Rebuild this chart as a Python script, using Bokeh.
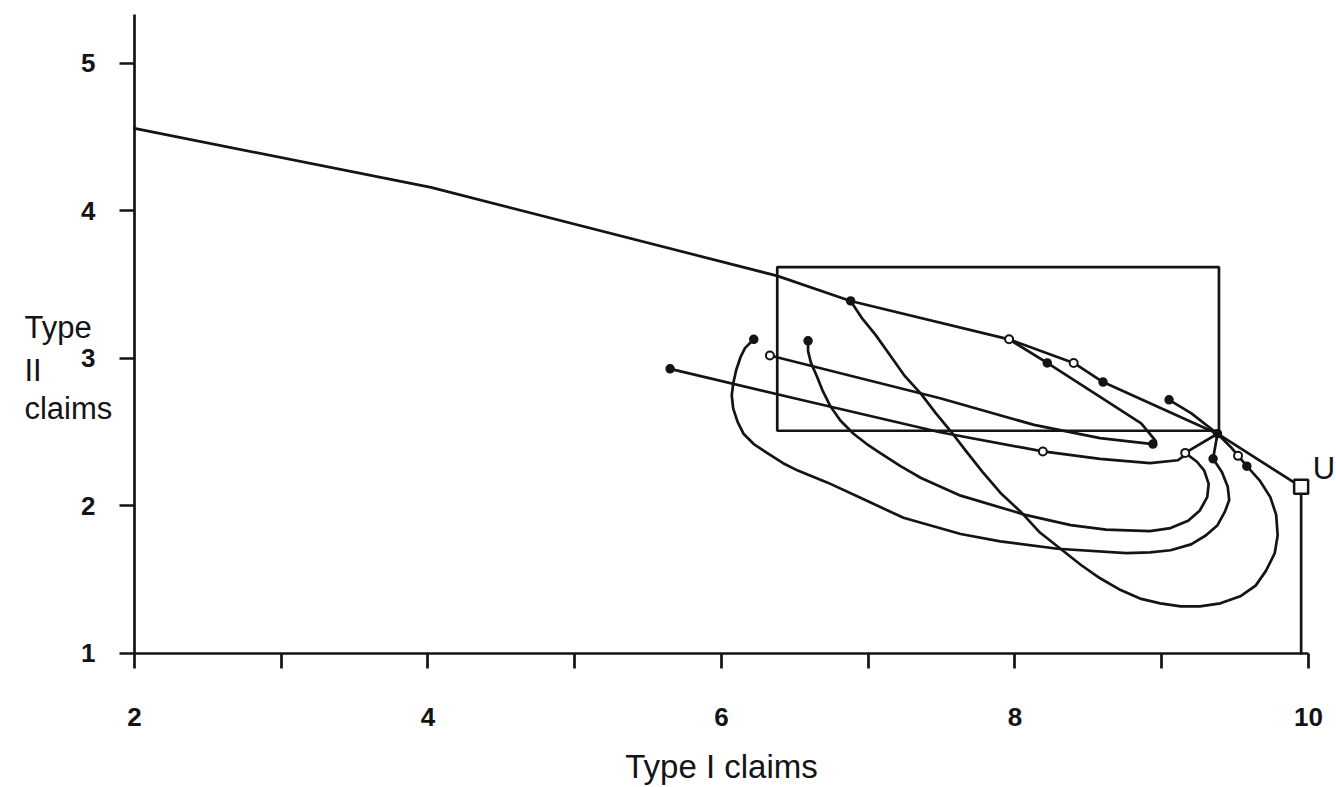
from bokeh.plotting import figure
from bokeh.models import Range1d, FixedTicker, Label
from bokeh.embed import file_html
from bokeh.resources import INLINE

# ---------------- data ----------------
x_ticks = [2, 3, 4, 5, 6, 7, 8, 9, 10]
x_tick_labels = {2: "2", 3: "", 4: "4", 5: "", 6: "6", 7: "", 8: "8", 9: "", 10: "10"}
y_ticks = [1, 2, 3, 4, 5]

# upper frontier line ending at U
frontier_x = [2.00, 4.02, 6.38, 6.88, 7.96, 8.40, 8.60, 9.38, 9.95]
frontier_y = [4.56, 4.16, 3.56, 3.39, 3.13, 2.97, 2.84, 2.49, 2.13]

# point U and its drop line to the axis
u_x = [9.95]
u_y = [2.13]
drop_x = [9.95, 9.95]
drop_y = [2.13, 1.00]

# rectangle
box_left, box_right = 6.38, 9.39
box_bottom, box_top = 2.51, 3.62

# trajectories
loop_a_x = [6.22, 6.16, 6.13, 6.10, 6.08, 6.07, 6.08, 6.11, 6.15, 6.22, 6.31, 6.42,
            6.52, 6.72, 6.98, 7.24, 7.63, 7.90, 8.29, 8.76, 8.92, 9.06, 9.20, 9.30,
            9.38, 9.43, 9.46, 9.45, 9.41, 9.35, 9.38]
loop_a_y = [3.13, 3.07, 3.01, 2.92, 2.83, 2.75, 2.66, 2.57, 2.49, 2.42, 2.36, 2.29,
            2.24, 2.16, 2.04, 1.92, 1.81, 1.76, 1.71, 1.68, 1.685, 1.70, 1.74, 1.80,
            1.87, 1.96, 2.04, 2.13, 2.23, 2.32, 2.49]

loop_b_x = [6.59, 6.59, 6.61, 6.65, 6.69, 6.74, 6.81, 6.90, 6.99, 7.08, 7.22, 7.36,
            7.63, 8.07, 8.38, 8.62, 8.92, 9.06, 9.18, 9.26, 9.31, 9.32, 9.29, 9.24,
            9.16, 9.38]
loop_b_y = [3.12, 3.05, 2.97, 2.88, 2.78, 2.68, 2.58, 2.49, 2.42, 2.36, 2.27, 2.19,
            2.07, 1.94, 1.87, 1.84, 1.83, 1.85, 1.90, 1.97, 2.06, 2.15, 2.24, 2.30,
            2.36, 2.49]

loop_c_x = [6.88, 6.96, 7.05, 7.15, 7.25, 7.36, 7.46, 7.56, 7.66, 7.78, 7.90, 8.04,
            8.17, 8.31, 8.45, 8.58, 8.72, 8.86, 8.99, 9.13, 9.26, 9.40, 9.54, 9.64,
            9.71, 9.77, 9.79, 9.78, 9.74, 9.67, 9.58, 9.47, 9.38]
loop_c_y = [3.39, 3.27, 3.16, 3.02, 2.88, 2.76, 2.63, 2.51, 2.38, 2.23, 2.09, 1.96,
            1.82, 1.71, 1.60, 1.51, 1.43, 1.37, 1.34, 1.32, 1.32, 1.34, 1.39, 1.46,
            1.56, 1.68, 1.80, 1.94, 2.06, 2.17, 2.27, 2.40, 2.49]

path_1_x = [5.65, 6.54, 7.49, 8.19, 8.58, 8.92, 9.11, 9.18]
path_1_y = [2.93, 2.72, 2.50, 2.37, 2.32, 2.29, 2.31, 2.36]

path_2_x = [6.33, 7.49, 8.13, 8.58, 8.94]
path_2_y = [3.02, 2.73, 2.55, 2.46, 2.42]

path_3_x = [7.96, 8.22, 8.58, 8.86, 8.96]
path_3_y = [3.13, 2.97, 2.74, 2.56, 2.44]

path_4_x = [9.05, 9.20, 9.38]
path_4_y = [2.72, 2.63, 2.49]

# markers
filled_x = [5.65, 6.22, 6.59, 6.88, 8.22, 8.60, 8.94, 9.05, 9.35, 9.58, 9.38]
filled_y = [2.93, 3.13, 3.12, 3.39, 2.97, 2.84, 2.42, 2.72, 2.32, 2.27, 2.49]
open_x = [6.33, 7.96, 8.40, 8.19, 9.16, 9.52]
open_y = [3.02, 3.13, 2.97, 2.37, 2.36, 2.34]

# ---------------- figure ----------------
INK = "#141414"
LW = 2.7
FONT = "Liberation Sans"

# the frame covers the whole canvas; axes are pinned at x=2 and y=1
p = figure(width=1336, height=787,
           x_range=Range1d(1.087, 10.191), y_range=Range1d(0.0915, 5.427),
           output_backend="svg", toolbar_location=None,
           min_border_left=0, min_border_right=0,
           min_border_top=0, min_border_bottom=0)
p.outline_line_color = None
p.xgrid.visible = False
p.ygrid.visible = False
p.background_fill_color = "white"
p.border_fill_color = "white"

for ax in (p.xaxis[0], p.yaxis[0]):
    ax.axis_line_width = LW
    ax.axis_line_color = INK
    ax.major_tick_line_width = LW
    ax.major_tick_line_color = INK
    ax.major_tick_out = 15
    ax.major_tick_in = 0
    ax.minor_tick_line_color = None
    ax.major_label_text_font = FONT
    ax.major_label_text_font_size = "26px"
    ax.major_label_text_font_style = "bold"
    ax.major_label_text_color = INK

p.xaxis.fixed_location = 1
p.xaxis.bounds = (2, 10)
p.xaxis.ticker = FixedTicker(ticks=x_ticks)
p.xaxis.major_label_overrides = x_tick_labels
p.xaxis.major_label_standoff = 40
p.xaxis.axis_label = "Type I claims"
p.xaxis.axis_label_text_font = FONT
p.xaxis.axis_label_text_font_size = "33px"
p.xaxis.axis_label_text_font_style = "normal"
p.xaxis.axis_label_text_color = INK
p.xaxis.axis_label_standoff = 18

p.yaxis.fixed_location = 2
p.yaxis.bounds = (1, 5.33)
p.yaxis.ticker = FixedTicker(ticks=y_ticks)
p.yaxis.major_label_standoff = 24

# y axis label as three lines
for txt, yy in (("Type", 3.21), ("II", 2.92), ("claims", 2.66)):
    p.add_layout(Label(x=1.25, y=yy, text=txt, text_font=FONT, text_font_size="31px",
                       text_color=INK, text_align="left", text_baseline="alphabetic"))

p.add_layout(Label(x=10.03, y=2.254, text="U", text_font=FONT, text_font_size="31px",
                   text_color=INK, text_align="left", text_baseline="alphabetic"))

line_kw = dict(line_color=INK, line_width=LW, line_join="round", line_cap="round")

p.line(frontier_x, frontier_y, **line_kw)
p.line(drop_x, drop_y, **line_kw)
p.quad(left=[box_left], right=[box_right], bottom=[box_bottom], top=[box_top],
       fill_alpha=0, line_color=INK, line_width=LW)

for xs, ys in ((loop_a_x, loop_a_y), (loop_b_x, loop_b_y), (loop_c_x, loop_c_y),
               (path_1_x, path_1_y), (path_2_x, path_2_y), (path_3_x, path_3_y),
               (path_4_x, path_4_y)):
    p.line(xs, ys, **line_kw)

p.scatter(filled_x, filled_y, marker="circle", size=8, fill_color=INK, line_color=INK, line_width=1.5)
p.scatter(open_x, open_y, marker="circle", size=8, fill_color="white", line_color=INK, line_width=2)
p.scatter(u_x, u_y, marker="square", size=14, fill_color="white", line_color=INK, line_width=2.5)

open("out.html", "w").write(file_html(p, INLINE))
